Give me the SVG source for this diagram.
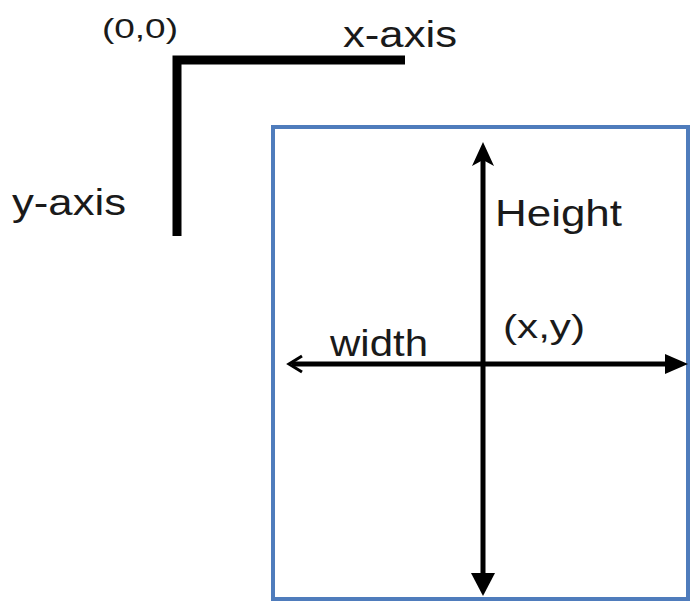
<svg xmlns="http://www.w3.org/2000/svg" width="693" height="605" viewBox="0 0 693 605">
<style>
text{font-family:"Liberation Sans",Arial,sans-serif;fill:#1a1a1a}
.ax{stroke:#000;stroke-width:9;fill:none;stroke-linecap:butt}
.sh{stroke:#000;stroke-width:5;fill:none}
.hd{fill:#000}
</style>
<rect width="693" height="605" fill="#fff"/>
<g id="axes">
<path class="ax" d="M177 236 V60 H405"/>
<text x="102" y="38" font-size="27" textLength="76" lengthAdjust="spacingAndGlyphs">(0,0)</text>
<text x="343" y="47" font-size="36" textLength="114" lengthAdjust="spacingAndGlyphs">x-axis</text>
<text x="12" y="215" font-size="36" textLength="114" lengthAdjust="spacingAndGlyphs">y-axis</text>
</g>
<g id="rect">
<rect x="273" y="127" width="415" height="472" fill="none" stroke="#4f7cbc" stroke-width="4"/>
</g>
<g id="connectors">
<line class="sh" x1="483" y1="155" x2="483" y2="580"/>
<path class="hd" d="M483 142 L494 166 L483 160 L472 166 Z"/>
<path class="hd" d="M483 596 L471 573 L495 573 Z"/>
<line class="sh" x1="292" y1="364" x2="672" y2="364"/>
<path d="M302 356 L289 364 L302 372" fill="none" stroke="#000" stroke-width="3"/>
<path class="hd" d="M688 364 L665 354 L665 374 Z"/>
</g>
<g id="labels">
<text x="495" y="226" font-size="36" textLength="127" lengthAdjust="spacingAndGlyphs">Height</text>
<text x="503" y="338" font-size="34" textLength="82" lengthAdjust="spacingAndGlyphs">(x,y)</text>
<text x="330" y="356" font-size="37" textLength="98" lengthAdjust="spacingAndGlyphs">width</text>
</g>
</svg>
